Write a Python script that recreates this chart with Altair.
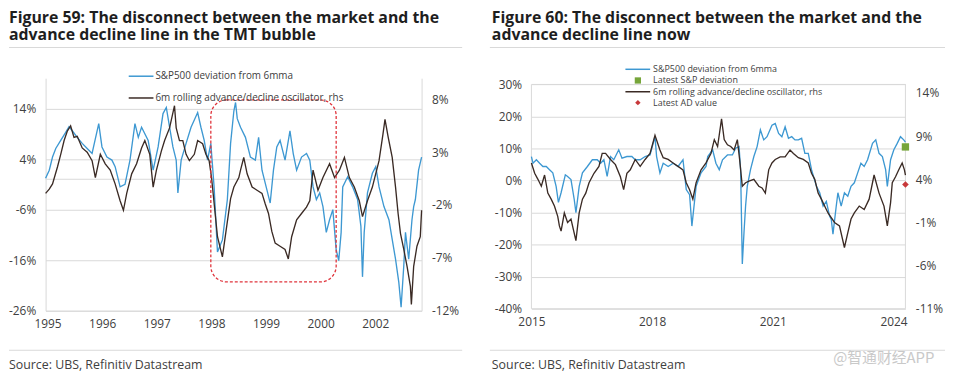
import altair as alt
import pandas as pd

# ---------------- data ----------------
# Figure 59: x is a period index; tick k is labelled p1_x_labels[k]
p1_x_labels = ["1995", "1996", "1997", "1998", "1999", "2000", "2002"]

p1_spx_t = [-0.036, 0.031, 0.091, 0.150, 0.241, 0.332, 0.393, 0.453, 0.543, 0.634,
            0.725, 0.815, 0.937, 0.996, 1.087, 1.178, 1.237, 1.328, 1.418, 1.509,
            1.600, 1.661, 1.721, 1.842, 1.933, 2.024, 2.114, 2.174, 2.234, 2.295,
            2.355, 2.386, 2.446, 2.536, 2.627, 2.748, 2.808, 2.868, 2.929, 2.989,
            3.049, 3.111, 3.201, 3.292, 3.351, 3.411, 3.442, 3.473, 3.533, 3.623,
            3.714, 3.804, 3.864, 3.926, 4.016, 4.076, 4.136, 4.197, 4.257, 4.348,
            4.438, 4.498, 4.560, 4.650, 4.741, 4.801, 4.861, 4.922, 4.982, 5.042,
            5.103, 5.163, 5.223, 5.284, 5.331, 5.375, 5.404, 5.495, 5.585, 5.676,
            5.737, 5.766, 5.797, 5.857, 5.947, 6.009, 6.069, 6.159, 6.250, 6.310,
            6.371, 6.431, 6.473, 6.522, 6.553, 6.612, 6.672, 6.703, 6.734, 6.793,
            6.848]
p1_spx_v = [0.2, 1.8, 4.4, 6.1, 7.7, 9.3, 10.4, 9.6, 8.3, 7.1,
            6.1, 5.1, 11.0, 6.4, 4.4, 3.8, 2.5, -1.5, -1.0, 3.8,
            11.0, 8.3, 10.3, 7.7, 1.8, 6.4, 13.0, 14.2, 10.3, 6.4,
            3.8, -2.7, 3.8, 7.1, 10.3, 13.2, 10.3, 7.7, 3.8, 7.1,
            -1.5, -14.4, -12.0, -4.0, 7.1, 13.5, 15.2, 12.0, 10.3, 8.3,
            4.4, 3.8, 8.3, 1.8, -2.1, -4.7, 1.8, 6.4, 7.7, 3.8,
            9.6, 5.1, 1.8, 4.4, 5.1, 3.8, -1.5, -4.0, -2.7, -5.4,
            -10.5, -8.0, -6.0, -13.9, -16.1, -10.5, -1.5, 0.5, -1.5, -4.0,
            -9.3, -19.3, -10.5, -2.7, 1.2, 2.5, -1.5, -5.4, -8.0, -11.9,
            -15.8, -20.4, -25.3, -17.1, -10.5, -15.8, -8.0, -5.4, -4.0, 1.8,
            4.4]

p1_ad_t = [-0.036, 0.031, 0.091, 0.181, 0.241, 0.303, 0.362, 0.422, 0.484, 0.543,
           0.634, 0.725, 0.815, 0.875, 0.966, 1.056, 1.147, 1.237, 1.328, 1.389,
           1.449, 1.540, 1.630, 1.721, 1.781, 1.871, 1.933, 1.993, 2.083, 2.143,
           2.234, 2.324, 2.355, 2.415, 2.476, 2.536, 2.596, 2.687, 2.748, 2.839,
           2.899, 2.958, 3.002, 3.111, 3.201, 3.351, 3.411, 3.502, 3.533, 3.592,
           3.654, 3.745, 3.835, 3.926, 3.986, 4.045, 4.106, 4.167, 4.257, 4.348,
           4.408, 4.469, 4.560, 4.650, 4.741, 4.801, 4.861, 4.951, 5.042, 5.163,
           5.254, 5.344, 5.435, 5.525, 5.616, 5.707, 5.766, 5.857, 5.947, 6.069,
           6.141, 6.178, 6.237, 6.310, 6.371, 6.418, 6.462, 6.522, 6.582, 6.643,
           6.661, 6.703, 6.763, 6.824, 6.848]
p1_ad_v = [-0.9, -0.5, 0.0, 1.6, 2.8, 4.1, 5.0, 5.5, 4.4, 4.5,
           3.4, 3.0, 2.2, 0.6, 2.8, 1.9, 1.3, 0.0, -1.6, -2.5,
           -0.9, 0.95, 1.9, 3.4, 4.1, 2.8, -0.3, 1.3, 3.1, 4.1,
           5.3, 7.4, 5.3, 4.1, 4.1, 2.8, 2.2, 2.8, 4.1, 3.8,
           2.8, 2.2, 0.6, -5.0, -6.9, -1.4, -0.3, 0.6, 1.3, 2.5,
           0.95, -0.3, -0.6, -0.9, -1.9, -2.8, -4.5, -5.6, -5.9, -6.2,
           -7.1, -5.0, -3.4, -2.8, -2.2, -1.6, 1.3, -0.6, 0.6, 1.9,
           0.6, 1.3, 2.5, 0.6, -0.3, -1.6, -3.1, -1.6, -0.3, 2.2,
           4.7, 6.1, 4.4, 2.5, -0.3, -2.8, -4.7, -6.2, -7.8, -9.7,
           -11.4, -7.8, -5.9, -5.0, -2.5]

# highlighted TMT window (period index, lhs %)
p1_box_t = [2.989, 5.284]
p1_box_v = [15.7, -20.3]

# Figure 60: fractional years
p2_spx_t = [2015.000, 2015.039, 2015.123, 2015.204, 2015.285, 2015.369, 2015.450, 2015.531, 2015.614, 2015.671,
            2015.737, 2015.843, 2015.899, 2015.983, 2016.064, 2016.106, 2016.187, 2016.268, 2016.391, 2016.514,
            2016.636, 2016.720, 2016.801, 2016.882, 2016.966, 2017.047, 2017.170, 2017.251, 2017.373, 2017.496,
            2017.580, 2017.703, 2017.826, 2017.948, 2018.071, 2018.111, 2018.194, 2018.275, 2018.398, 2018.521,
            2018.644, 2018.767, 2018.848, 2018.931, 2018.988, 2019.093, 2019.216, 2019.339, 2019.382, 2019.504,
            2019.585, 2019.668, 2019.749, 2019.872, 2019.995, 2020.076, 2020.160, 2020.199, 2020.241, 2020.283,
            2020.322, 2020.364, 2020.445, 2020.528, 2020.609, 2020.690, 2020.774, 2020.855, 2020.978, 2021.059,
            2021.143, 2021.224, 2021.305, 2021.388, 2021.469, 2021.550, 2021.634, 2021.715, 2021.796, 2021.880,
            2021.961, 2022.084, 2022.165, 2022.249, 2022.329, 2022.410, 2022.452, 2022.494, 2022.575, 2022.617,
            2022.698, 2022.779, 2022.862, 2022.943, 2023.025, 2023.108, 2023.189, 2023.270, 2023.354, 2023.477,
            2023.558, 2023.639, 2023.722, 2023.803, 2023.845, 2023.926, 2024.007, 2024.091, 2024.172, 2024.253,
            2024.295]
p2_spx_v = [7.5, 5.4, 6.5, 5.4, 4.4, 4.4, 3.4, 2.4, -1.8, -6.8,
            -3.8, 1.8, 1.3, 0.3, -5.9, -10.0, -1.8, 2.4, 4.4, 6.5,
            6.5, 5.4, 6.5, 1.3, 7.5, 6.5, 9.6, 7.0, 7.5, 7.5,
            6.5, 6.5, 7.5, 8.0, 13.7, 7.5, 2.4, 5.4, 4.4, 5.4,
            4.4, 6.5, -2.8, -4.4, -14.2, -1.8, 2.4, 4.4, 7.5, 9.6,
            5.4, 3.4, 6.5, 8.0, 8.0, 10.1, 10.6, 3.4, -26.0, -16.2,
            -8.0, -1.8, 3.4, 7.5, 10.6, 15.8, 12.7, 13.7, 17.3, 17.8,
            14.7, 13.7, 16.8, 13.2, 13.7, 12.7, 12.7, 13.2, 8.5, 8.5,
            3.4, -1.8, -3.8, -8.0, -6.5, -11.1, -12.1, -16.7, -8.0, -3.8,
            -8.0, -3.8, -4.9, -1.8, -0.7, 2.4, 5.4, 4.4, 6.5, 11.6,
            12.7, 8.5, 7.5, 3.4, -1.8, 6.5, 9.6, 11.6, 13.7, 12.7,
            12.0]

p2_ad_t = [2015.000, 2015.081, 2015.162, 2015.246, 2015.327, 2015.408, 2015.491, 2015.572, 2015.654, 2015.695,
           2015.737, 2015.818, 2015.899, 2015.983, 2016.106, 2016.187, 2016.268, 2016.351, 2016.432, 2016.555,
           2016.678, 2016.759, 2016.843, 2016.966, 2017.088, 2017.211, 2017.292, 2017.373, 2017.457, 2017.580,
           2017.703, 2017.826, 2017.948, 2018.071, 2018.194, 2018.275, 2018.398, 2018.521, 2018.644, 2018.767,
           2018.848, 2018.931, 2019.012, 2019.093, 2019.216, 2019.339, 2019.462, 2019.545, 2019.627, 2019.725,
           2019.791, 2019.872, 2019.953, 2020.037, 2020.118, 2020.174, 2020.241, 2020.322, 2020.405, 2020.528,
           2020.651, 2020.732, 2020.813, 2020.897, 2020.978, 2021.059, 2021.182, 2021.305, 2021.428, 2021.511,
           2021.634, 2021.757, 2021.880, 2021.961, 2022.042, 2022.125, 2022.206, 2022.287, 2022.371, 2022.533,
           2022.656, 2022.779, 2022.862, 2022.943, 2023.025, 2023.147, 2023.270, 2023.393, 2023.516, 2023.639,
           2023.762, 2023.845, 2023.926, 2023.968, 2024.049, 2024.130, 2024.214, 2024.270, 2024.295]
p2_ad_v = [5.9, 4.7, 4.0, 3.2, 4.5, 2.4, 1.7, 0.9, -0.3, -1.4,
           -2.0, 0.1, -1.0, -0.6, -3.1, 0.1, 1.7, 2.4, 3.6, 4.7,
           5.5, 7.0, 7.0, 6.3, 5.7, 4.3, 2.8, 4.7, 5.1, 6.3,
           5.5, 6.3, 7.0, 9.1, 7.4, 6.5, 6.3, 5.9, 5.5, 5.1,
           3.6, 2.8, 1.7, 3.6, 5.1, 5.9, 7.0, 8.6, 7.8, 11.0,
           8.6, 8.0, 7.8, 7.4, 8.6, 6.3, 3.2, 3.6, 3.8, 4.0,
           3.2, 3.0, 2.4, 5.1, 5.9, 6.3, 6.6, 6.6, 7.4, 7.0,
           6.5, 6.3, 5.9, 4.7, 4.0, 2.4, 1.7, 0.9, 0.1, -1.0,
           -1.4, -3.9, -2.2, -0.6, 0.1, 0.9, 0.5, 1.7, 4.5, 2.4,
           0.9, -1.4, 1.3, 3.6, 4.3, 5.1, 5.9, 5.1, 4.5]

p2_latest_t = [2024.295]
p2_latest_spx = [10.5]
p2_latest_ad = [3.4]

# ---------------- style ----------------
FONT = "Open Sans"
BLUE = "#3d98d2"
DARK = "#3a2a24"
GRID = "#d9d9d9"
TXT = "#404040"
TITLE = "#1e1e1e"
GREEN = "#76a53a"
RED = "#c8383a"
BOXRED = "#e0343c"

one = pd.DataFrame({"k": [0]})


def label(s, x, y, size=12, color=TXT, weight="normal", font=FONT, baseline="alphabetic"):
    return alt.Chart(one).mark_text(text=s, align="left", baseline=baseline, fontSize=size,
                                    color=color, fontWeight=weight, font=font).encode(
        x=alt.value(x), y=alt.value(y))


def hline(x1, x2, y, color, width=1.0):
    return alt.Chart(one).mark_rule(color=color, strokeWidth=width).encode(
        x=alt.value(x1), x2=alt.value(x2), y=alt.value(y))


def yaxis(values, orient, grid, domain):
    return alt.Axis(values=values, orient=orient, labelExpr="datum.value + '%'", title=None,
                    grid=grid, gridColor=GRID, gridWidth=1, ticks=False, domain=domain,
                    domainColor=GRID, labelPadding=10, labelFontSize=12, labelColor=TXT,
                    labelFont=FONT)


def titles(line1, line2, x):
    return [
        label(line1, x, -69, size=16, color=TITLE, weight="bold", baseline="top"),
        label(line2, x, -38.5, size=16, color=TITLE, weight="bold"),
    ]


# ---------------- Figure 59 ----------------
W1, H1 = 380, 235
xs1 = alt.Scale(domain=[-0.036, 6.848], nice=False, zero=False)
lab_expr = "[" + ",".join("'%s'" % s for s in p1_x_labels) + "][datum.value]"
xax1 = alt.Axis(values=list(range(len(p1_x_labels))), labelExpr=lab_expr, title=None, grid=False,
                ticks=False, domain=True, domainColor=GRID, labelPadding=8, labelFontSize=12,
                labelColor=TXT, labelFont=FONT, labelFlush=False)
yl1 = alt.Scale(domain=[-26, 20], nice=False, zero=False)
yr1 = alt.Scale(domain=[-12, 10], nice=False, zero=False)

df_b1 = pd.DataFrame({"t": p1_spx_t, "v": p1_spx_v})
df_a1 = pd.DataFrame({"t": p1_ad_t, "v": p1_ad_v})
df_box = pd.DataFrame({"t0": [p1_box_t[0]], "t1": [p1_box_t[1]], "v0": [p1_box_v[0]], "v1": [p1_box_v[1]]})

zero1 = alt.Chart(pd.DataFrame({"v": [0]})).mark_rule(color=GRID, strokeWidth=1).encode(
    y=alt.Y("v:Q", scale=yl1, axis=None))
blue1 = alt.Chart(df_b1).mark_line(color=BLUE, strokeWidth=1.35).encode(
    x=alt.X("t:Q", scale=xs1, axis=xax1),
    y=alt.Y("v:Q", scale=yl1, axis=yaxis([-26, -16, -6, 4, 14], "left", True, True)))
dark1 = alt.Chart(df_a1).mark_line(color=DARK, strokeWidth=1.35).encode(
    x=alt.X("t:Q", scale=xs1, axis=xax1),
    y=alt.Y("v:Q", scale=yr1, axis=yaxis([-12, -7, -2, 3, 8], "right", False, True)))
box1 = alt.Chart(df_box).mark_rect(cornerRadius=16, fillOpacity=0, stroke=BOXRED, strokeWidth=1.3,
                                   strokeDash=[3, 2]).encode(
    x=alt.X("t0:Q", scale=xs1, axis=xax1), x2="t1:Q",
    y=alt.Y("v0:Q", scale=yl1, axis=None), y2="v1:Q")

ann1 = titles("Figure 59: The disconnect between the market and the",
              "advance decline line in the TMT bubble", -37) + [
    hline(-37, 421, -31, GRID),
    hline(-37, 421, 275, GRID),
    label("Source: UBS, Refinitiv Datastream", -37, 293.5, size=12.5),
    hline(84, 109, -2, BLUE, 1.5),
    label("S&P500 deviation from 6mma", 111, -2, size=10, baseline="middle"),
    hline(84, 109, 20, DARK, 1.5),
    label("6m rolling advance/decline oscillator, rhs", 111, 20, size=10, baseline="middle"),
]

panel1 = alt.layer(zero1, blue1, dark1, box1, *ann1).resolve_scale(y="independent").properties(
    width=W1, height=H1, view=alt.ViewBackground(strokeWidth=0))

# ---------------- Figure 60 ----------------
W2, H2 = 378, 233
xs2 = alt.Scale(domain=[2015, 2024.295], nice=False, zero=False)
xax2 = alt.Axis(values=[2015, 2018, 2021, 2024], format="d", title=None, grid=False, ticks=False,
                domain=False, labelPadding=8, labelFontSize=12, labelColor=TXT, labelFont=FONT,
                labelFlush=False)
yl2 = alt.Scale(domain=[-40, 31.95], nice=False, zero=False)
yr2 = alt.Scale(domain=[-11, 15.72], nice=False, zero=False)

df_b2 = pd.DataFrame({"t": p2_spx_t, "v": p2_spx_v})
df_a2 = pd.DataFrame({"t": p2_ad_t, "v": p2_ad_v})
df_ls = pd.DataFrame({"t": p2_latest_t, "v": p2_latest_spx})
df_la = pd.DataFrame({"t": p2_latest_t, "v": p2_latest_ad})
df_frame = pd.DataFrame({"t0": [2015.0], "t1": [2024.295], "v0": [-40], "v1": [30]})

frame2 = alt.Chart(df_frame).mark_rect(fillOpacity=0, stroke=GRID, strokeWidth=1).encode(
    x=alt.X("t0:Q", scale=xs2, axis=xax2), x2="t1:Q",
    y=alt.Y("v0:Q", scale=yl2, axis=None), y2="v1:Q")
blue2 = alt.Chart(df_b2).mark_line(color=BLUE, strokeWidth=1.35).encode(
    x=alt.X("t:Q", scale=xs2, axis=xax2),
    y=alt.Y("v:Q", scale=yl2, axis=yaxis([-40, -30, -20, -10, 0, 10, 20, 30], "left", True, False)))
dark2 = alt.Chart(df_a2).mark_line(color=DARK, strokeWidth=1.35).encode(
    x=alt.X("t:Q", scale=xs2, axis=xax2),
    y=alt.Y("v:Q", scale=yr2, axis=yaxis([-11, -6, -1, 4, 9, 14], "right", False, False)))
sq2 = alt.Chart(df_ls).mark_square(size=55, color=GREEN, opacity=1).encode(
    x=alt.X("t:Q", scale=xs2, axis=xax2), y=alt.Y("v:Q", scale=yl2, axis=None))
dia2 = alt.Chart(df_la).mark_point(shape="diamond", filled=True, size=45, color=RED, opacity=1).encode(
    x=alt.X("t:Q", scale=xs2, axis=xax2), y=alt.Y("v:Q", scale=yr2, axis=None))

ann2 = titles("Figure 60: The disconnect between the market and the",
              "advance decline line now", -40) + [
    hline(-42, 418, -31, GRID),
    hline(-42, 418, 275, GRID),
    label("Source: UBS, Refinitiv Datastream", -40, 293.5, size=12.5),
    label("@智通财经APP", 305, 288, size=15, color="#c9c9c9", font="Noto Sans CJK SC"),
    hline(95, 120, -9, BLUE, 1.5),
    label("S&P500 deviation from 6mma", 123, -9, size=9, baseline="middle"),
    alt.Chart(one).mark_square(size=40, color=GREEN, opacity=1).encode(x=alt.value(107.6), y=alt.value(2.3)),
    label("Latest S&P deviation", 123, 2.3, size=9, baseline="middle"),
    hline(95, 120, 13.7, DARK, 1.5),
    label("6m rolling advance/decline oscillator, rhs", 123, 13.7, size=9, baseline="middle"),
    alt.Chart(one).mark_point(shape="diamond", filled=True, size=30, color=RED, opacity=1).encode(
        x=alt.value(107.6), y=alt.value(24.7)),
    label("Latest AD value", 123, 24.7, size=9, baseline="middle"),
]

panel2 = alt.layer(frame2, blue2, dark2, sq2, dia2, *ann2).resolve_scale(y="independent").properties(
    width=W2, height=H2, view=alt.ViewBackground(strokeWidth=0))

chart = alt.hconcat(panel1, panel2, spacing=26).properties(
    padding={"left": 0, "top": 0, "right": 0, "bottom": 0}, background="white")

chart.save("out.html", embed_options={"renderer": "svg", "actions": False})
